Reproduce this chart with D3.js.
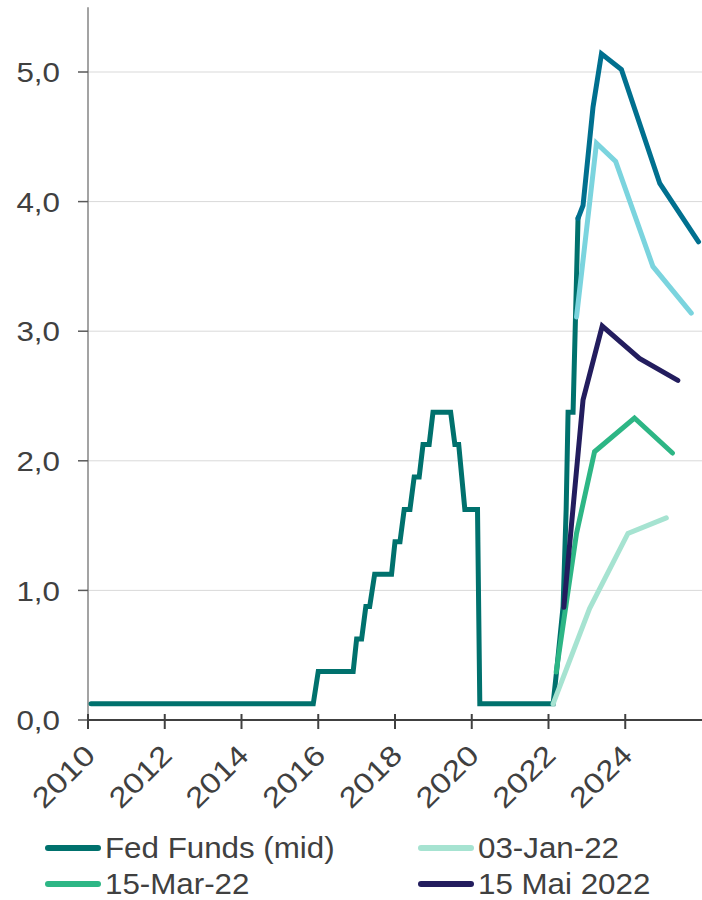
<!DOCTYPE html>
<html>
<head>
<meta charset="utf-8">
<script src="https://cdn.jsdelivr.net/npm/d3@7"></script>
<style>
  html, body { margin: 0; padding: 0; background: #fff; }
  svg { display: block; font-family: "Liberation Sans", Arial, sans-serif; }
</style>
</head>
<body>
<svg id="chart" width="702" height="900"></svg>
<script>
// [decimal year, rate in %]
const fedFunds = [
  [2010.08, 0.125], [2015.87, 0.125], [2016.0, 0.375], [2016.91, 0.375], [2017.0, 0.625],
  [2017.13, 0.625], [2017.24, 0.875], [2017.34, 0.875], [2017.47, 1.125], [2017.91, 1.125],
  [2018.0, 1.375], [2018.13, 1.375], [2018.24, 1.625], [2018.39, 1.625], [2018.5, 1.875],
  [2018.63, 1.875], [2018.73, 2.125], [2018.89, 2.125], [2018.99, 2.375], [2019.45, 2.375],
  [2019.56, 2.125], [2019.66, 2.125], [2019.82, 1.625], [2020.15, 1.625], [2020.21, 0.125],
  [2022.12, 0.125], [2022.21, 0.375], [2022.38, 0.875], [2022.46, 1.625], [2022.51, 2.375],
  [2022.64, 2.375], [2022.77, 3.875]
]
const jan22 = [[2022.12, 0.125], [2023.07, 0.86], [2024.07, 1.44], [2025.07, 1.56]]
const mar22 = [[2022.2, 0.37], [2022.73, 1.44], [2023.2, 2.07], [2024.24, 2.33], [2025.23, 2.06]]
const mai22 = [[2022.4, 0.87], [2022.9, 2.47], [2023.4, 3.04], [2024.37, 2.79], [2025.37, 2.62]]
const sep22 = [[2022.73, 3.11], [2023.25, 4.45], [2023.75, 4.31], [2024.72, 3.5], [2025.72, 3.14]]
const nov22 = [[2022.77, 3.87], [2022.9, 3.97], [2023.16, 4.73], [2023.38, 5.14], [2023.9, 5.02], [2024.9, 4.14], [2025.91, 3.69]]

const xTicks = [2010, 2012, 2014, 2016, 2018, 2020, 2022, 2024]
const yTicks = [0, 1, 2, 3, 4, 5]

const series = [
  { name: "Fed Funds (mid)", data: fedFunds, color: "#00716d", legend: true },
  { name: "03-Jan-22", data: jan22, color: "#a6e3d1", legend: true },
  { name: "15-Mar-22", data: mar22, color: "#2db685", legend: true },
  { name: "15 Mai 2022", data: mai22, color: "#231d5e", legend: true },
  { name: "Sep-22", data: sep22, color: "#7bd4de", legend: false },
  { name: "Nov-22", data: nov22, color: "#00708f", legend: false }
]

const svg = d3.select("#chart")
const x = d3.scaleLinear().domain([2010, 2026]).range([88, 702])
const y = d3.scaleLinear().domain([0, 5.5]).range([720, 7.2])
const fmt = d3.formatLocale({ decimal: ",", thousands: ".", grouping: [3], currency: ["", "€"] }).format(".1f")

// gridlines
svg.append("g").selectAll("line").data(yTicks.filter((d) => d > 0)).enter().append("line")
  .attr("x1", x(2010)).attr("x2", 702).attr("y1", (d) => y(d)).attr("y2", (d) => y(d))
  .attr("stroke", "#d9d9d9").attr("stroke-width", 1)

// y axis
svg.append("line").attr("x1", x(2010)).attr("x2", x(2010)).attr("y1", y(5.5)).attr("y2", y(0))
  .attr("stroke", "#858585").attr("stroke-width", 1.5)
svg.append("g").selectAll("line").data(yTicks).enter().append("line")
  .attr("x1", x(2010) - 10).attr("x2", x(2010)).attr("y1", (d) => y(d)).attr("y2", (d) => y(d))
  .attr("stroke", "#595959").attr("stroke-width", 1.5)
// the source chart's text is a little wider than plain Arial, hence the scaleX
svg.append("g").selectAll("text").data(yTicks).enter().append("text")
  .attr("transform", (d) => `translate(60,${y(d)}) scale(1.1,1)`)
  .attr("dy", "0.36em").attr("text-anchor", "end")
  .attr("font-size", 28.5).attr("fill", "#404040").text((d) => fmt(d))

// x axis
svg.append("line").attr("x1", x(2010)).attr("x2", 702).attr("y1", y(0)).attr("y2", y(0))
  .attr("stroke", "#404040").attr("stroke-width", 2)
svg.append("g").selectAll("line").data(xTicks).enter().append("line")
  .attr("x1", (d) => x(d)).attr("x2", (d) => x(d)).attr("y1", y(0) - 6).attr("y2", y(0) + 9)
  .attr("stroke", "#404040").attr("stroke-width", 2)
svg.append("g").selectAll("text").data(xTicks).enter().append("text")
  .attr("transform", (d) => `translate(${x(d) + 9},${y(0) + 37}) rotate(-45) scale(1.18,1)`)
  .attr("text-anchor", "end").attr("font-size", 28.5).attr("fill", "#404040").text((d) => d)

// lines
const line = d3.line().x((d) => x(d[0])).y((d) => y(d[1]))
svg.append("g").selectAll("path").data(series).enter().append("path")
  .attr("d", (d) => line(d.data)).attr("fill", "none").attr("stroke", (d) => d.color)
  .attr("stroke-width", 5).attr("stroke-linecap", "round").attr("stroke-linejoin", "miter")

// legend
const legendItems = series.filter((s) => s.legend)
const lg = svg.append("g").selectAll("g").data(legendItems).enter().append("g")
  .attr("transform", (d, i) => `translate(${i % 2 === 0 ? 48 : 421},${i < 2 ? 848 : 884})`)
lg.append("line").attr("x1", 0).attr("x2", 50).attr("y1", 0).attr("y2", 0)
  .attr("stroke", (d) => d.color).attr("stroke-width", 6).attr("stroke-linecap", "round")
lg.append("text").attr("transform", "translate(57,0) scale(1.08,1)").attr("dy", "0.35em")
  .attr("font-size", 29).attr("fill", "#404040").text((d) => d.name)
</script>
</body>
</html>
